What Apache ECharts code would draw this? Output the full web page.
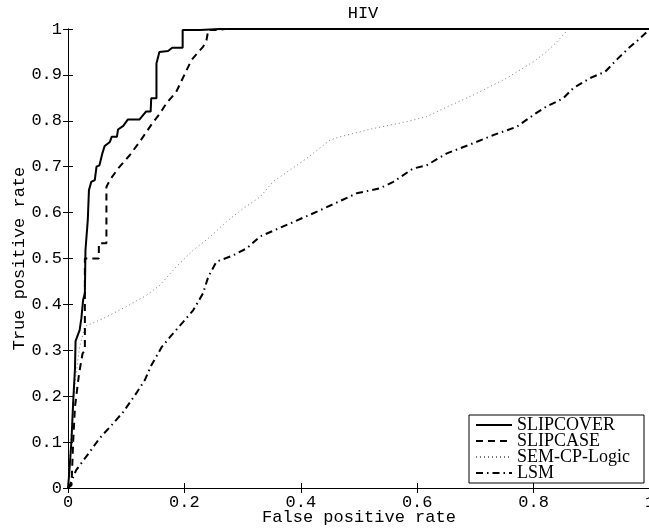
<!DOCTYPE html>
<html><head><meta charset="utf-8">
<script src="https://cdn.jsdelivr.net/npm/echarts@6/dist/echarts.min.js"></script>
<style>html,body{margin:0;padding:0;background:#fff}#c{width:649px;height:528px}</style>
</head><body><div id="c"></div>
<script>
const titleText = 'HIV';
const xName = 'False positive rate';
const yName = 'True positive rate';
const seriesNames = ['SLIPCOVER', 'SLIPCASE', 'SEM-CP-Logic', 'LSM'];

const slipcoverX = [0,0.002,0.006,0.009,0.012,0.013,0.02,0.023,0.026,0.029,0.030,0.034,0.036,0.040,0.046,0.049,0.054,0.059,0.063,0.072,0.075,0.084,0.086,0.095,0.103,0.123,0.134,0.142,0.143,0.152,0.152,0.157,0.172,0.179,0.197,0.197,0.227,0.26,1];
const slipcoverY = [0,0.03,0.104,0.19,0.26,0.32,0.344,0.37,0.41,0.424,0.518,0.584,0.649,0.667,0.671,0.70,0.703,0.729,0.745,0.754,0.765,0.765,0.781,0.789,0.803,0.803,0.82,0.82,0.849,0.849,0.925,0.950,0.952,0.959,0.959,0.998,0.998,1,1];

const slipcaseX = [0,0.006,0.009,0.012,0.019,0.025,0.029,0.029,0.053,0.053,0.066,0.066,0.072,0.086,0.106,0.123,0.143,0.158,0.169,0.186,0.201,0.212,0.224,0.232,0.238,0.241,0.256,0.27,1];
const slipcaseY = [0,0.006,0.104,0.177,0.249,0.293,0.30,0.5,0.5,0.533,0.533,0.656,0.671,0.696,0.725,0.754,0.791,0.816,0.838,0.863,0.903,0.932,0.950,0.961,0.976,0.998,0.998,1,1];

const semX = [0,0.009,0.014,0.02,0.029,0.06,0.10,0.135,0.158,0.186,0.215,0.244,0.272,0.301,0.33,0.352,0.41,0.45,0.467,0.524,0.582,0.616,0.639,0.696,0.754,0.80,0.822,0.84,0.86,1];
const semY = [0,0.19,0.25,0.307,0.352,0.369,0.395,0.42,0.442,0.482,0.518,0.547,0.58,0.609,0.634,0.667,0.718,0.758,0.765,0.783,0.798,0.809,0.823,0.856,0.893,0.929,0.95,0.972,1.0,1];

const lsmX = [0,0.003,0.014,0.037,0.054,0.075,0.095,0.115,0.132,0.143,0.161,0.178,0.198,0.215,0.232,0.241,0.255,0.284,0.307,0.33,0.381,0.433,0.496,0.536,0.559,0.593,0.616,0.651,0.696,0.731,0.771,0.80,0.822,0.851,0.868,0.897,0.923,0.945,0.963,0.983,1];
const lsmY = [0,0.006,0.039,0.078,0.108,0.137,0.166,0.202,0.235,0.267,0.307,0.333,0.362,0.387,0.424,0.46,0.493,0.507,0.522,0.548,0.576,0.605,0.642,0.653,0.667,0.696,0.703,0.729,0.751,0.769,0.787,0.813,0.831,0.849,0.871,0.893,0.907,0.936,0.958,0.98,1];

function pairs(xs, ys){ return xs.map((x,i)=>[x, ys[i]]); }
const mono = 'Liberation Mono';
const fmt = v => (v === 0 ? '0' : v === 1 ? '1' : v.toFixed(1));

const chart = echarts.init(document.getElementById('c'), null, {renderer:'canvas'});
const axisLine = {show:true, lineStyle:{color:'#000', width:1}};
const tick = {show:true, inside:true, length:5, lineStyle:{color:'#000'}};
chart.setOption({
  animation:false,
  backgroundColor:'#fff',
  title:{text:titleText, left:358, textAlign:'center', top:0,
    textStyle:{fontFamily:mono, fontSize:17, fontWeight:'normal', color:'#000'}},
  grid:{left:68, top:29, width:582, height:459, containLabel:false, outerBoundsMode:'none'},
  legend:{
    data: seriesNames,
    left:469, top:415, orient:'vertical',
    backgroundColor:'#fff', borderColor:'#000', borderWidth:1,
    padding:[1,14,1,6], itemGap:-2, itemWidth:36, itemHeight:12,
    itemStyle:{opacity:0},
    textStyle:{fontFamily:'Liberation Serif', fontSize:18, color:'#000', lineHeight:16}
  },
  xAxis:[
    {type:'value', min:0, max:1, interval:0.2, position:'bottom',
     name:xName, nameLocation:'middle', nameGap:21, nameMoveOverlap:false,
     nameTextStyle:{fontFamily:mono, fontSize:17, color:'#000'},
     axisLine, axisTick:tick, splitLine:{show:false},
     axisLabel:{fontFamily:mono, fontSize:17, color:'#000', margin:6, formatter:fmt}},
    {type:'value', min:0, max:1, interval:0.2, position:'top',
     axisLine, axisTick:tick, splitLine:{show:false}, axisLabel:{show:false}}
  ],
  yAxis:[
    {type:'value', min:0, max:1, interval:0.1, position:'left',
     name:yName, nameLocation:'middle', nameGap:40, nameRotate:90, nameMoveOverlap:false,
     nameTextStyle:{fontFamily:mono, fontSize:17, color:'#000'},
     axisLine, axisTick:tick, splitLine:{show:false},
     axisLabel:{fontFamily:mono, fontSize:17, color:'#000', margin:6, formatter:fmt}},
    {type:'value', min:0, max:1, interval:0.1, position:'right',
     axisLine, axisTick:tick, splitLine:{show:false}, axisLabel:{show:false}}
  ],
  series:[
    {name:seriesNames[0], type:'line', data:pairs(slipcoverX, slipcoverY), showSymbol:false, symbol:'none',
     lineStyle:{color:'#000', width:2, type:'solid'}, itemStyle:{color:'#000'}, z:5},
    {name:seriesNames[1], type:'line', data:pairs(slipcaseX, slipcaseY), showSymbol:false, symbol:'none',
     lineStyle:{color:'#000', width:2, type:[7,5]}, itemStyle:{color:'#000'}, z:4},
    {name:seriesNames[2], type:'line', data:pairs(semX, semY), showSymbol:false, symbol:'none',
     lineStyle:{color:'#777', width:1, type:[1,3]}, itemStyle:{color:'#777'}, z:3},
    {name:seriesNames[3], type:'line', data:pairs(lsmX, lsmY), showSymbol:false, symbol:'none',
     lineStyle:{color:'#000', width:2, type:[7,4,1.5,4]}, itemStyle:{color:'#000'}, z:2}
  ]
});
</script></body></html>
